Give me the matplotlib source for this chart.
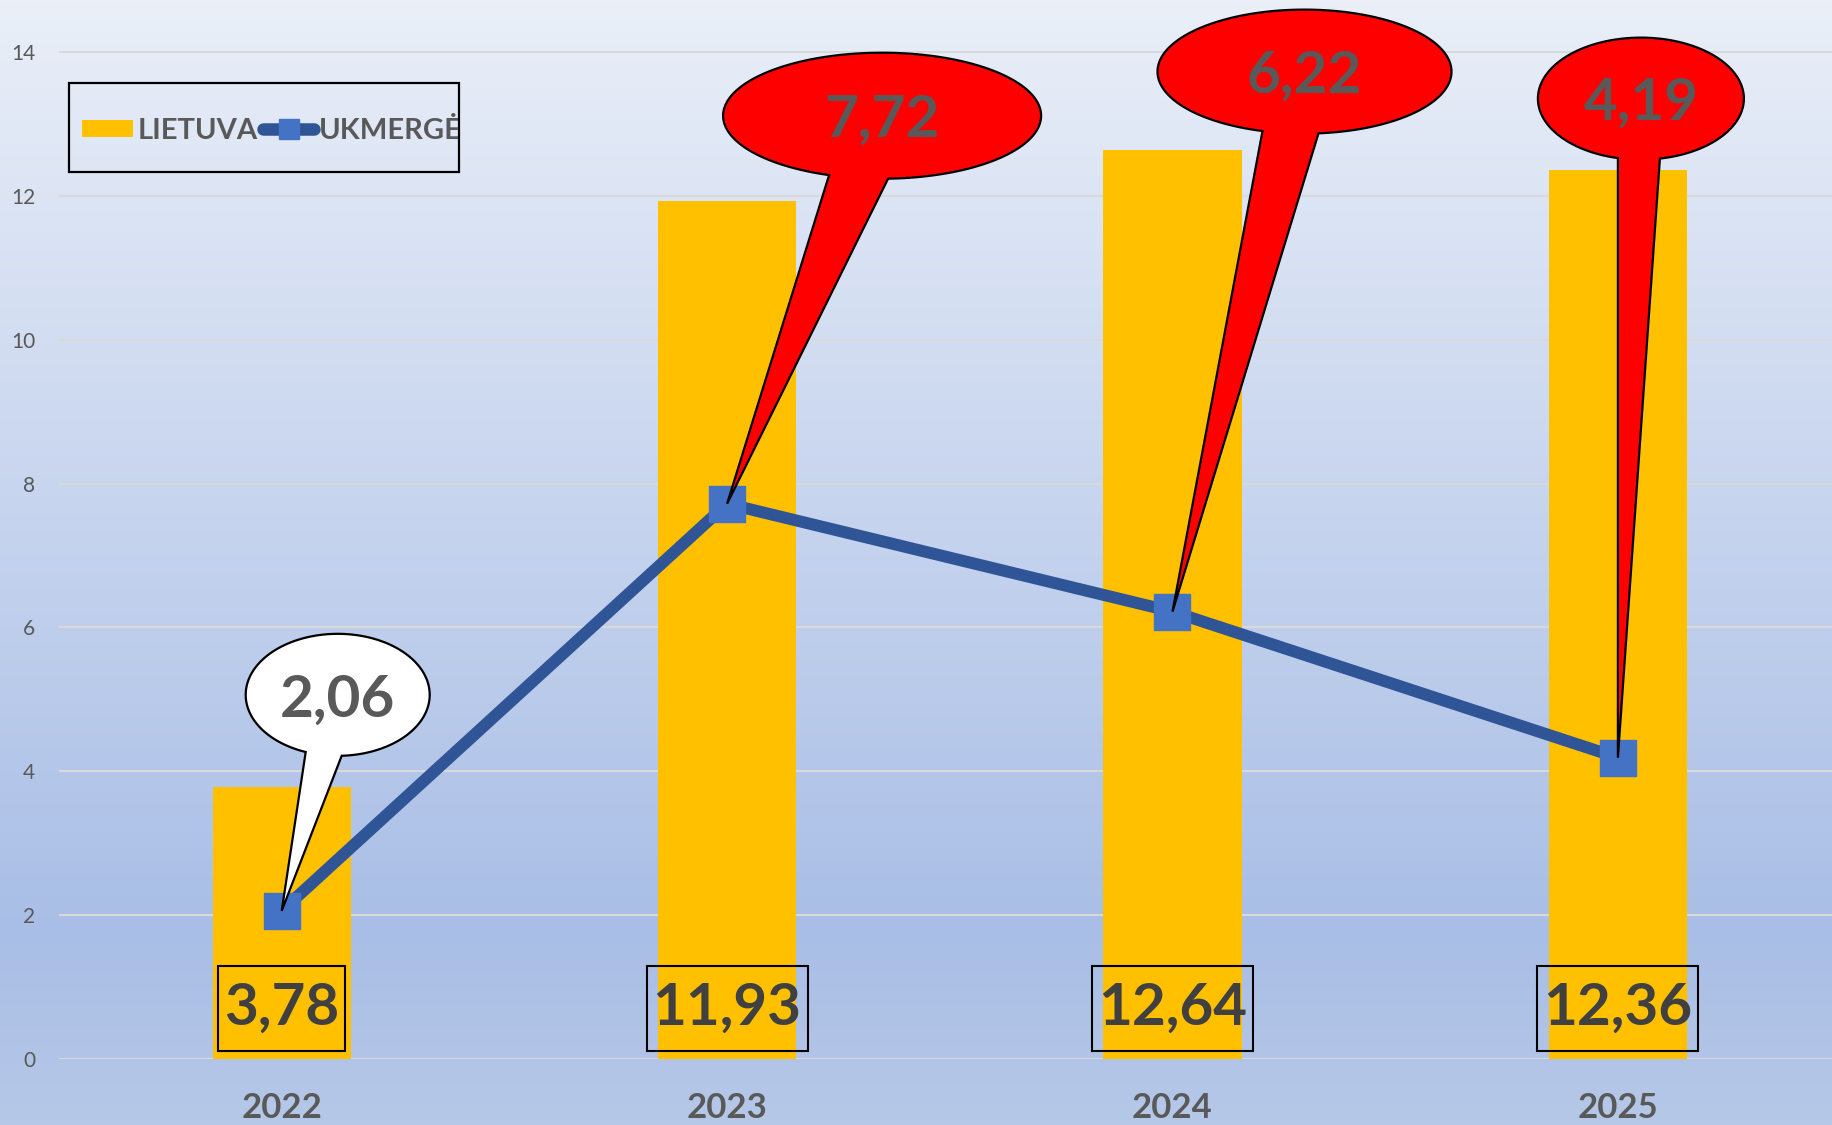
import numpy as np
import matplotlib.pyplot as plt
from matplotlib.patches import Polygon, Rectangle
from matplotlib.colors import LinearSegmentedColormap

plt.rcParams['font.family'] = ['Lato', 'DejaVu Sans']

years = ["2022", "2023", "2024", "2025"]
lietuva = [3.78, 11.93, 12.64, 12.36]
ukmerge = [2.06, 7.72, 6.22, 4.19]
bar_labels = ["3,78", "11,93", "12,64", "12,36"]
line_labels = ["2,06", "7,72", "6,22", "4,19"]

# bubble style: centre offset from point (px), half axes (px), tail base x offsets (px), fill
bubbles = [
    dict(dx=56, dy=216, a=92, b=61, t1=-32, t2=4, fc="white"),
    dict(dx=155, dy=388, a=159, b=63, t1=-53, t2=6, fc="#FF0000"),
    dict(dx=132, dy=540, a=147, b=62, t1=-42, t2=14, fc="#FF0000"),
    dict(dx=23, dy=659, a=103, b=61, t1=-23, t2=19, fc="#FF0000"),
]

W, H = 1833, 1125
fig = plt.figure(figsize=(W / 100, H / 100), dpi=100)

# background gradient
bg = fig.add_axes([0, 0, 1, 1], zorder=-10)
cmap = LinearSegmentedColormap.from_list(
    "bg", [(0, "#EAEFF8"), (0.83, "#A9BEE6"), (1, "#B6C8E8")])
bg.imshow(np.linspace(0, 1, 256).reshape(-1, 1), aspect="auto", cmap=cmap,
          extent=[0, 1, 0, 1], origin="upper")
bg.axis("off")

# main axes geometry
px_unit = 1007 / 14
x0_px, y0_px = 59, 1059
top_px = 52 - 0.2 * px_unit
cat_px = 445.4
ax = fig.add_axes([x0_px / W, (H - y0_px) / H, (W - x0_px) / W, (y0_px - top_px) / H])
ax.patch.set_alpha(0)
ax.set_xlim(-0.5, -0.5 + (W - x0_px) / cat_px)
ax.set_ylim(0, 14.2)
for s in ax.spines.values():
    s.set_visible(False)

ax.set_yticks(range(0, 15, 2))
ax.yaxis.grid(True, color="#D9D9D9", linewidth=1.5)
ax.set_axisbelow(True)
ax.tick_params(axis="y", length=0, pad=17, labelsize=15, labelcolor="#595959")
x = np.arange(len(years))
ax.set_xticks(x)
ax.set_xticklabels(years, fontsize=25, fontweight="bold", color="#595959")
ax.tick_params(axis="x", length=0, pad=24)

bars = ax.bar(x, lietuva, width=0.31, color="#FFC000", label="LIETUVA", zorder=2)
line, = ax.plot(x, ukmerge, color="#2F5597", linewidth=8.6, marker="s", markersize=26,
                markerfacecolor="#4472C4", markeredgecolor="#4472C4", label="UKMERGĖ",
                zorder=3, solid_capstyle="round")

renderer = fig.canvas.get_renderer()
for xi, lab in zip(x, bar_labels):
    t = ax.text(xi, 0.70, lab, ha="center", va="center", fontsize=42, fontweight="bold",
                color="#404040", zorder=4)
    bb = t.get_window_extent(renderer)
    fig.add_artist(Rectangle(((bb.x0 - 6) / W, (bb.y0 - 16) / H),
                             (bb.width + 12) / W, (bb.height + 32) / H,
                             fc="none", ec="black", lw=1.5,
                             transform=fig.transFigure, zorder=4))

# speech bubbles
for xi, yi, lab, bs in zip(x, ukmerge, line_labels, bubbles):
    px, py = ax.transData.transform((xi, yi))
    cx, cy = px + bs["dx"], py + bs["dy"]
    a, b = bs["a"], bs["b"]
    th1 = 2 * np.pi - np.arccos(bs["t1"] / a)
    th2 = 2 * np.pi - np.arccos(bs["t2"] / a)
    th = np.linspace(th2, th1 + 2 * np.pi, 240)
    verts = np.column_stack([cx + a * np.cos(th), cy + b * np.sin(th)])
    verts = np.vstack([verts, [px, py]])
    verts[:, 0] /= W
    verts[:, 1] /= H
    fig.add_artist(Polygon(verts, closed=True, fc=bs["fc"], ec="black", lw=1.6,
                           transform=fig.transFigure, zorder=5))
    fig.text(cx / W, (cy - 5) / H, lab, ha="center", va="center", fontsize=42,
             fontweight="bold", color="#595959", zorder=6)

# legend with its own frame
fig.add_artist(Rectangle((69 / W, 1 - 172 / H), 390 / W, 89 / H, fc="none",
                         ec="black", lw=1.6, transform=fig.transFigure, zorder=7))
leg = ax.legend(handles=[bars, line], loc="center left", bbox_to_anchor=(82 / W, 1 - 131 / H),
                bbox_transform=fig.transFigure, borderaxespad=0, borderpad=0, ncol=2,
                frameon=False, handlelength=1.75, handleheight=0.55, handletextpad=0.15,
                columnspacing=0.2, prop=dict(family="Lato", weight="bold", size=21))
for t in leg.get_texts():
    t.set_color("#595959")
for h in leg.legend_handles:
    if hasattr(h, "set_markersize"):
        h.set_markersize(15)
        h.set_linewidth(9)

fig.savefig("out.png", dpi=100)
